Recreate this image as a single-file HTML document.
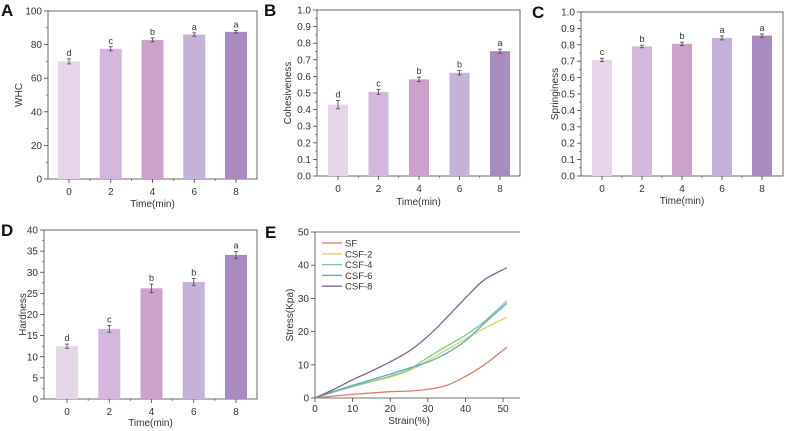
<!DOCTYPE html>
<html><head><meta charset="utf-8">
<style>
html,body{margin:0;padding:0;background:#fff;}
svg{display:block;font-family:"Liberation Sans",Arial,sans-serif;}
</style></head>
<body>
<svg id="fig" width="791" height="431" viewBox="0 0 791 431"></svg>
<script>
const times = ['0','2','4','6','8'];
const whcVals = [70, 77.5, 82.8, 86, 87.6];
const whcErr = [1.5, 1.2, 1.2, 1.0, 0.8];
const whcLetters = ['d','c','b','a','a'];
const cohVals = [0.43, 0.507, 0.582, 0.622, 0.752];
const cohErr = [0.025, 0.015, 0.013, 0.013, 0.012];
const cohLetters = ['d','c','b','b','a'];
const sprVals = [0.708, 0.79, 0.806, 0.842, 0.856];
const sprErr = [0.01, 0.008, 0.01, 0.012, 0.01];
const sprLetters = ['c','b','b','a','a'];
const hardVals = [12.5, 16.6, 26.2, 27.7, 34.1];
const hardErr = [0.5, 0.8, 1.0, 0.8, 0.8];
const hardLetters = ['d','c','b','b','a'];
const barColors = ['#e6d5e8','#d3b7dd','#cca2cc','#c6b2d9','#a78bc1'];
const strain = [0, 5, 10, 15, 20, 25, 30, 35, 40, 45, 51];
const sfVals = [0, 0.6, 1.1, 1.5, 1.9, 2.1, 2.6, 3.8, 6.5, 10, 15.3];
const csf2Vals = [0, 1.8, 3.4, 4.9, 6.3, 8.2, 11.3, 14.5, 17.8, 21, 24.3];
const csf4Vals = [0, 1.8, 3.5, 5, 6.6, 8.6, 12.2, 15.6, 18.9, 23, 29.3];
const csf6Vals = [0, 2, 3.8, 5.5, 7.2, 9, 10.8, 13.5, 17.2, 22.5, 28.5];
const csf8Vals = [0, 2.6, 5.5, 8.1, 10.9, 14.1, 18.6, 24.2, 30.1, 35.6, 39.2];
const seriesNames = ['SF','CSF-2','CSF-4','CSF-6','CSF-8'];
const seriesColors = ['#e07b6e','#d9d65a','#7fc8a2','#5ca9c9','#7b6a9b'];

const NS='http://www.w3.org/2000/svg';
const svg=document.getElementById('fig');
function mk(tag,attrs,parent,text){
  const e=document.createElementNS(NS,tag);
  for(const k in attrs) e.setAttribute(k,attrs[k]);
  if(text!==undefined) e.textContent=text;
  (parent||svg).appendChild(e);
  return e;
}

function barPanel(p){
  const g=mk('g',{});
  
  
  const {L,R,T,B,min,max,step,minor,fmt,x0,x8}=p;
  const y=v=>B-(v-min)/(max-min)*(B-T);
  const x=i=>x0+i*(x8-x0)/4;
  mk('rect',{x:L,y:T,width:R-L,height:B-T,fill:'none',stroke:'#444','stroke-width':0.8},g);
  const nT=Math.round((max-min)/step);
  for(let i=0;i<=nT;i++){
    const v=min+i*step, yy=y(v);
    mk('line',{x1:L-4,x2:L,y1:yy,y2:yy,stroke:'#444','stroke-width':0.8},g);
    const t=mk('text',{x:L-6,y:yy+3.5,'text-anchor':'end','font-size':10,fill:'#333'},g,fmt(v));
    
    
    if(i<nT){const ym=y(v+step/2);mk('line',{x1:L-2,x2:L,y1:ym,y2:ym,stroke:'#444','stroke-width':0.6},g);}
  }
  times.forEach((lab,i)=>{
    const xx=x(i);
    mk('line',{x1:xx,x2:xx,y1:B,y2:B+4,stroke:'#444','stroke-width':0.8},g);
    if(i<4){const xm=x(i+0.5);mk('line',{x1:xm,x2:xm,y1:B,y2:B+2,stroke:'#444','stroke-width':0.6},g);}
    const t=mk('text',{x:xx,y:B+16,'text-anchor':'middle','font-size':10,fill:'#333'},g,lab);
    
    
    const v=p.vals[i], e=p.err[i], bw=p.bw;
    const r=mk('rect',{x:xx-bw/2,y:y(v),width:bw,height:B-y(v),fill:barColors[i]},g);
    
    
    mk('line',{x1:xx,x2:xx,y1:y(v+e),y2:y(v-e),stroke:'#444','stroke-width':0.8},g);
    mk('line',{x1:xx-2,x2:xx+2,y1:y(v+e),y2:y(v+e),stroke:'#444','stroke-width':0.8},g);
    mk('line',{x1:xx-2,x2:xx+2,y1:y(v-e),y2:y(v-e),stroke:'#444','stroke-width':0.8},g);
    const lt=mk('text',{x:xx,y:y(v+e)-3,'text-anchor':'middle','font-size':9,fill:'#333'},g,p.letters[i]);
    
    
  });
  const xt=mk('text',{x:(L+R)/2,y:p.xtY,'text-anchor':'middle','font-size':10,fill:'#333'},g,'Time(min)');
  
  
  const yt=mk('text',{x:p.ytX,y:(T+B)/2,'text-anchor':'middle','font-size':10,fill:'#333',transform:`rotate(-90 ${p.ytX} ${(T+B)/2})`},g,p.ytitle);
  
  
  const pl=mk('text',{x:p.lx,y:p.ly,'font-size':17,'font-weight':'bold',fill:'#111'},g,p.letter);
  
  
}

barPanel({name:'panel-a-whc',L:48,R:257,T:11,B:179,min:0,max:100,step:20,fmt:v=>String(v),x0:69,x8:236,bw:22,vals:whcVals,err:whcErr,letters:whcLetters,xtY:207,ytX:22,ytitle:'WHC',letter:'A',lx:1,ly:16});
barPanel({name:'panel-b-cohesiveness',L:317,R:520,T:10,B:176,min:0,max:1,step:0.1,fmt:v=>v.toFixed(1),x0:338,x8:500,bw:20,vals:cohVals,err:cohErr,letters:cohLetters,xtY:205,ytX:291,ytitle:'Cohesiveness',letter:'B',lx:264,ly:16});
barPanel({name:'panel-c-springiness',L:581,R:783,T:12,B:176,min:0,max:1,step:0.1,fmt:v=>v.toFixed(1),x0:602,x8:762,bw:20,vals:sprVals,err:sprErr,letters:sprLetters,xtY:204,ytX:558,ytitle:'Springiness',letter:'C',lx:532,ly:18});
barPanel({name:'panel-d-hardness',L:44,R:257,T:230,B:399,min:0,max:40,step:5,fmt:v=>String(v),x0:67,x8:236,bw:22,vals:hardVals,err:hardErr,letters:hardLetters,xtY:426,ytX:26,ytitle:'Hardness',letter:'D',lx:1,ly:236});

// Panel E
(function(){
  const g=mk('g',{});
  
  
  const L=315,R=520,T=232,B=398,xmax=54.5,ymax=50;
  const x=v=>L+v/xmax*(R-L), y=v=>B-v/ymax*(B-T);
  mk('line',{x1:L,x2:R,y1:T,y2:T,stroke:'#444','stroke-width':0.8},g);
  mk('line',{x1:L,x2:L,y1:T,y2:B,stroke:'#444','stroke-width':0.8},g);
  mk('line',{x1:L,x2:R,y1:B,y2:B,stroke:'#444','stroke-width':0.8},g);
  for(let v=0;v<=50;v+=10){
    mk('line',{x1:L-4,x2:L,y1:y(v),y2:y(v),stroke:'#444','stroke-width':0.8},g);
    const t=mk('text',{x:L-6,y:y(v)+3.5,'text-anchor':'end','font-size':10,fill:'#333'},g,String(v));
    
    
    mk('line',{x1:x(v),x2:x(v),y1:B,y2:B+4,stroke:'#444','stroke-width':0.8},g);
    const t2=mk('text',{x:x(v),y:B+14,'text-anchor':'middle','font-size':10,fill:'#333'},g,String(v));
    
    
  }
  const all=[sfVals,csf2Vals,csf4Vals,csf6Vals,csf8Vals];
  all.forEach((vals,k)=>{
    const pts=strain.map((s,i)=>[x(s),y(vals[i])]);
    let d='M'+pts[0][0]+','+pts[0][1];
    for(let i=0;i<pts.length-1;i++){
      const p0=pts[Math.max(0,i-1)],p1=pts[i],p2=pts[i+1],p3=pts[Math.min(pts.length-1,i+2)];
      const c1=[p1[0]+(p2[0]-p0[0])/6,p1[1]+(p2[1]-p0[1])/6];
      const c2=[p2[0]-(p3[0]-p1[0])/6,p2[1]-(p3[1]-p1[1])/6];
      d+=`C${c1[0]},${c1[1]} ${c2[0]},${c2[1]} ${p2[0]},${p2[1]}`;
    }
    const path=mk('path',{d:d,fill:'none',stroke:seriesColors[k],'stroke-width':1.3},g);
    
    
    const ly=243+k*10.8;
    const lg=mk('g',{},g);
    
    
    mk('line',{x1:322,x2:342,y1:ly,y2:ly,stroke:seriesColors[k],'stroke-width':1.3},lg);
    mk('text',{x:345,y:ly+3.5,'font-size':9.5,fill:'#333'},lg,seriesNames[k]);
  });
  const xt=mk('text',{x:x(25),y:424,'text-anchor':'middle','font-size':10,fill:'#333'},g,'Strain(%)');
  
  
  const yt=mk('text',{x:293,y:315,'text-anchor':'middle','font-size':10,fill:'#333',transform:'rotate(-90 293 315)'},g,'Stress(Kpa)');
  
  
  const pl=mk('text',{x:265,y:238,'font-size':17,'font-weight':'bold',fill:'#111'},g,'E');
  
  
})();
</script>
</body></html>
